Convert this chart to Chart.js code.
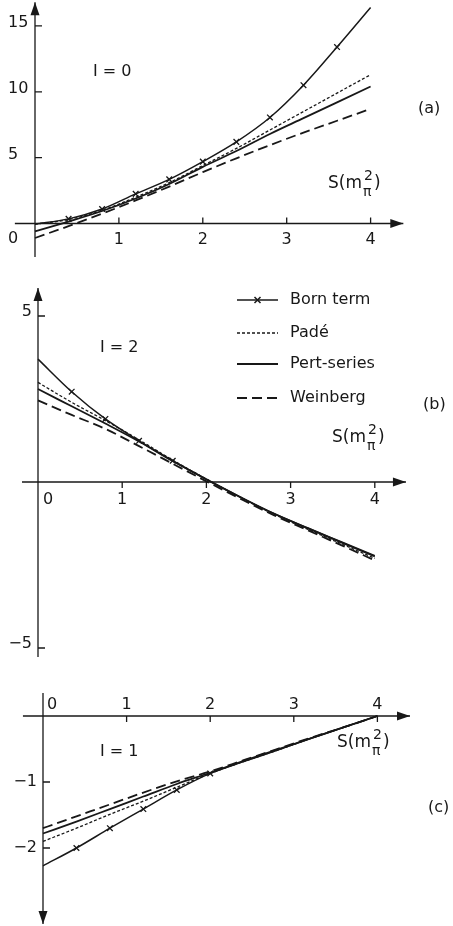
<!DOCTYPE html>
<html lang="en">
<head>
  <meta charset="UTF-8">
  <title>I = 0, 1, 2 amplitudes</title>
  <script src="https://cdn.jsdelivr.net/npm/chart.js"></script>
  <style>
    body {
      margin: 0;
      background: #ffffff;
      width: 453px;
      height: 926px;
      overflow: hidden;
      position: relative;
    }
    .panel {
      position: absolute;
      left: 0;
      width: 453px;
    }
  </style>
</head>
<body>

  <div class="panel" style="top:0;height:262px"><canvas id="chartA"></canvas></div>
  <div class="panel" style="top:262px;height:418px"><canvas id="chartB"></canvas></div>
  <div class="panel" style="top:680px;height:246px"><canvas id="chartC"></canvas></div>

  <script>
    // s in units of m_pi^2
    const sValues = [0, 0.4, 0.8, 1.2, 1.6, 2.0, 2.4, 2.8, 3.2, 3.6, 4.0];

    // (a) I = 0
    const bornA     = [-0.05, 0.35, 1.1, 2.25, 3.35, 4.7, 6.2, 8.05, 10.5, 13.4, 16.4];
    const padeA     = [-0.05, 0.3, 1.0, 2.0, 3.1, 4.4, 5.7, 7.1, 8.5, 9.9, 11.3];
    const pertA     = [-0.6, 0.15, 0.95, 1.9, 3.0, 4.3, 5.5, 6.8, 8.0, 9.2, 10.4];
    const weinbergA = [-1.1, -0.2, 0.75, 1.75, 2.8, 3.9, 4.95, 5.95, 6.9, 7.8, 8.7];

    // (b) I = 2
    const bornB     = [3.7, 2.72, 1.9, 1.24, 0.64, 0.08, -0.45, -0.95, -1.38, -1.8, -2.22];
    const padeB     = [3.0, 2.4, 1.85, 1.27, 0.66, 0.09, -0.46, -0.97, -1.42, -1.86, -2.3];
    const pertB     = [2.8, 2.28, 1.76, 1.22, 0.63, 0.08, -0.45, -0.95, -1.39, -1.82, -2.24];
    const weinbergB = [2.46, 2.02, 1.6, 1.08, 0.55, 0.02, -0.5, -1.0, -1.45, -1.9, -2.36];

    // (c) I = 1
    const bornC     = [-2.27, -2.0, -1.7, -1.41, -1.12, -0.87, -0.69, -0.52, -0.34, -0.17, 0.0];
    const padeC     = [-1.9, -1.7, -1.49, -1.29, -1.08, -0.87, -0.69, -0.52, -0.34, -0.17, 0.0];
    const pertC     = [-1.78, -1.6, -1.41, -1.22, -1.03, -0.86, -0.68, -0.51, -0.34, -0.17, 0.0];
    const weinbergC = [-1.7, -1.52, -1.34, -1.16, -0.99, -0.84, -0.67, -0.5, -0.33, -0.17, 0.0];

    // where the Born curve carries its "x" marks
    const bornMarksA = [0.4, 0.8, 1.2, 1.6, 2.0, 2.4, 2.8, 3.2, 3.6];
    const bornMarksB = [0.4, 0.8, 1.2, 1.6];
    const bornMarksC = [0.4, 0.8, 1.2, 1.6, 2.0];

    const xTicks = [1, 2, 3, 4];
    const yTicksA = [5, 10, 15];
    const yTicksB = [5, -5];
    const yTicksC = [-1, -2];

    const seriesNames = ['Born term', 'Padé', 'Pert-series', 'Weinberg'];

    const INK = '#181818';
    const FONT = '"DejaVu Sans", sans-serif';

    function pts(ys) {
      return sValues.map((s, i) => ({ x: s, y: ys[i] }));
    }

    function lineStyles(marks) {
      return [
        { borderWidth: 1.5, borderDash: [],
          pointStyle: 'crossRot', pointBorderWidth: 1.3,
          pointRadius: ctx => marks.includes(sValues[ctx.dataIndex]) ? 4 : 0 },
        { borderWidth: 1.3, borderDash: [3, 2], pointRadius: 0 },
        { borderWidth: 1.8, borderDash: [], pointRadius: 0 },
        { borderWidth: 1.8, borderDash: [10, 5], pointRadius: 0 }
      ];
    }

    function arrow(ctx, x, y, dir) {
      const L = 13, W = 4.5;
      ctx.beginPath();
      if (dir === 'up') { ctx.moveTo(x, y); ctx.lineTo(x - W, y + L); ctx.lineTo(x + W, y + L); }
      if (dir === 'down') { ctx.moveTo(x, y); ctx.lineTo(x - W, y - L); ctx.lineTo(x + W, y - L); }
      if (dir === 'right') { ctx.moveTo(x, y); ctx.lineTo(x - L, y - W); ctx.lineTo(x - L, y + W); }
      ctx.closePath();
      ctx.fill();
    }

    function drawS(ctx, x, y) {
      ctx.textAlign = 'left';
      ctx.textBaseline = 'middle';
      ctx.font = '17px ' + FONT;
      ctx.fillText('S(m', x, y);
      const w = ctx.measureText('S(m').width;
      ctx.font = '14px ' + FONT;
      ctx.fillText('2', x + w + 2, y - 8);
      ctx.fillText('π', x + w + 1, y + 8);
      const w2 = Math.max(ctx.measureText('2').width, ctx.measureText('π').width);
      ctx.font = '17px ' + FONT;
      ctx.fillText(')', x + w + w2 + 3, y);
    }

    // axes through the origin, arrows, tick marks, labels and legend
    const figurePlugin = {
      id: 'figure',
      afterDatasetsDraw(chart, args, opts) {
        const ctx = chart.ctx;
        const sx = chart.scales.x, sy = chart.scales.y;
        const X = v => sx.getPixelForValue(v);
        const Y = v => sy.getPixelForValue(v);
        const x0 = X(0), y0 = Y(0);

        ctx.save();
        ctx.strokeStyle = INK;
        ctx.fillStyle = INK;
        ctx.lineWidth = 1.3;

        // axis lines
        ctx.beginPath();
        ctx.moveTo(X(opts.xFrom), y0); ctx.lineTo(X(opts.xTo), y0);
        ctx.moveTo(x0, Y(opts.yFrom)); ctx.lineTo(x0, Y(opts.yTo));
        ctx.stroke();
        arrow(ctx, X(opts.xTo), y0, 'right');
        arrow(ctx, x0, Y(opts.yTo), opts.yTo > 0 ? 'up' : 'down');

        // tick marks
        ctx.beginPath();
        opts.xTicks.forEach(v => {
          ctx.moveTo(X(v), y0); ctx.lineTo(X(v), y0 + opts.xTickDir * 6);
        });
        opts.yTicks.forEach(v => {
          ctx.moveTo(x0, Y(v)); ctx.lineTo(x0 + 7, Y(v));
        });
        ctx.stroke();

        // tick labels
        ctx.font = '16px ' + FONT;
        ctx.textBaseline = 'middle';
        ctx.textAlign = 'center';
        opts.xTicks.forEach(v => ctx.fillText(String(v), X(v), y0 + opts.xLabelOff));
        ctx.textAlign = 'left';
        ctx.fillText('0', opts.zero[0], opts.zero[1]);
        ctx.textAlign = opts.yAlign;
        opts.yTicks.forEach(v => {
          const t = v < 0 ? '−' + Math.abs(v) : String(v);
          ctx.fillText(t, opts.yLabelX, Y(v) + opts.yLabelOff);
        });

        // panel texts
        ctx.font = '16px ' + FONT;
        ctx.textAlign = 'left';
        ctx.fillText(opts.iso, opts.isoPos[0], opts.isoPos[1]);
        ctx.fillText(opts.tag, opts.tagPos[0], opts.tagPos[1]);
        drawS(ctx, opts.sPos[0], opts.sPos[1]);

        // legend (panel b only)
        if (opts.legend) {
          const [lx0, lx1, tx, rows] = opts.legend;
          chart.data.datasets.forEach((ds, i) => {
            const y = rows[i];
            ctx.lineWidth = ds.borderWidth;
            ctx.setLineDash(ds.borderDash);
            ctx.beginPath();
            ctx.moveTo(lx0, y); ctx.lineTo(lx1, y);
            ctx.stroke();
            ctx.setLineDash([]);
            if (i === 0) {
              const m = (lx0 + lx1) / 2, r = 3;
              ctx.beginPath();
              ctx.moveTo(m - r, y - r); ctx.lineTo(m + r, y + r);
              ctx.moveTo(m - r, y + r); ctx.lineTo(m + r, y - r);
              ctx.stroke();
            }
            ctx.font = '16px ' + FONT;
            ctx.fillText(ds.label, tx, y);
          });
        }
        ctx.restore();
      }
    };

    function makePanel(id, height, px, series, marks, fig) {
      // px: pixel position of the origin and pixels per unit on each axis
      const xMin = -px.x0 / px.xu, xMax = (453 - px.x0) / px.xu;
      const yMax = px.y0 / px.yu, yMin = -(height - px.y0) / px.yu;
      const styles = lineStyles(marks);
      new Chart(document.getElementById(id), {
        type: 'line',
        data: {
          datasets: series.map((ys, i) => Object.assign({
            label: seriesNames[i],
            data: pts(ys),
            borderColor: INK,
            pointBorderColor: INK,
            backgroundColor: INK,
            fill: false,
            cubicInterpolationMode: 'monotone'
          }, styles[i]))
        },
        options: {
          responsive: true,
          maintainAspectRatio: false,
          animation: false,
          layout: { padding: 0 },
          scales: {
            x: { type: 'linear', min: xMin, max: xMax, display: false },
            y: { type: 'linear', min: yMin, max: yMax, display: false }
          },
          plugins: {
            legend: { display: false },
            tooltip: { enabled: false },
            figure: fig
          }
        },
        plugins: [figurePlugin]
      });
    }

    makePanel('chartA', 262, { x0: 35, xu: 83.9, y0: 223.5, yu: 13.17 },
      [bornA, padeA, pertA, weinbergA], bornMarksA, {
        xFrom: -0.24, xTo: 4.39, yFrom: -2.55, yTo: 16.8,
        xTicks: xTicks, yTicks: yTicksA, xTickDir: -1, xLabelOff: 16,
        zero: [8, 239], yAlign: 'left', yLabelX: 8, yLabelOff: -3,
        iso: 'I = 0', isoPos: [93, 72], tag: '(a)', tagPos: [418, 109],
        sPos: [328, 184]
      });

    makePanel('chartB', 418, { x0: 38, xu: 84.2, y0: 220, yu: 33.2 },
      [bornB, padeB, pertB, weinbergB], bornMarksB, {
        xFrom: -0.19, xTo: 4.37, yFrom: -5.27, yTo: 5.84,
        xTicks: xTicks, yTicks: yTicksB, xTickDir: 1, xLabelOff: 18,
        zero: [43, 238], yAlign: 'right', yLabelX: 32, yLabelOff: -4,
        iso: 'I = 2', isoPos: [100, 86], tag: '(b)', tagPos: [423, 143],
        sPos: [332, 176],
        legend: [237, 278, 290, [38, 71, 102, 136]]
      });

    makePanel('chartC', 246, { x0: 43, xu: 83.6, y0: 36, yu: 66 },
      [bornC, padeC, pertC, weinbergC], bornMarksC, {
        xFrom: -0.24, xTo: 4.39, yFrom: 0.35, yTo: -3.15,
        xTicks: xTicks, yTicks: yTicksC, xTickDir: 1, xLabelOff: -11,
        zero: [47, 25], yAlign: 'right', yLabelX: 37, yLabelOff: 0,
        iso: 'I = 1', isoPos: [100, 72], tag: '(c)', tagPos: [428, 128],
        sPos: [337, 63]
      });
  </script>

</body>
</html>
